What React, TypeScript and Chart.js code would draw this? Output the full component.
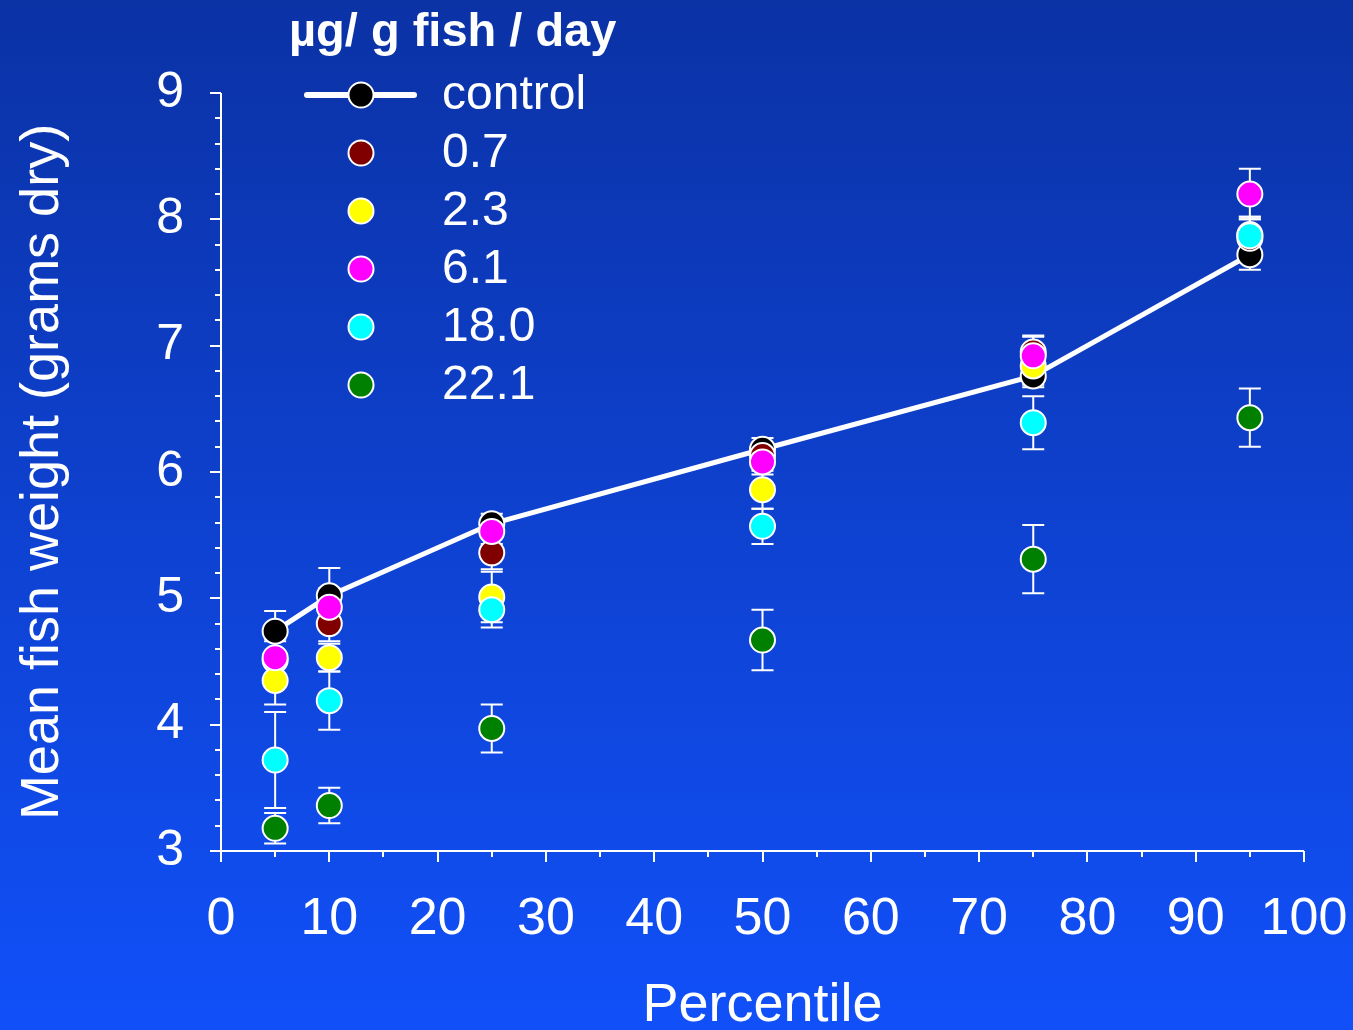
import React, { useEffect, useRef } from "react";
import { Chart, registerables } from "chart.js";

Chart.register(...registerables);

const FONT = "'Liberation Sans', Arial, Helvetica, sans-serif";

// ---- data ----
const percentiles = [5, 10, 25, 50, 75, 95];

const seriesLabels = ["control", "0.7", "2.3", "6.1", "18.0", "22.1"];
const seriesColors = ["#000000", "#800000", "#ffff00", "#ff00ff", "#00ffff", "#008000"];

const control = [4.74, 5.02, 5.59, 6.18, 6.76, 7.72];
const controlErr = [0.16, 0.22, 0.08, 0.09, 0.09, 0.12];

const dose07 = [4.51, 4.8, 5.36, 6.13, 6.95, 7.85];
const dose07Err = [0.15, 0.14, 0.13, 0.1, 0.12, 0.15];

const dose23 = [4.35, 4.53, 5.01, 5.86, 6.84, 7.88];
const dose23Err = [0.19, 0.11, 0.2, 0.15, 0.15, 0.14];

const dose61 = [4.53, 4.93, 5.53, 6.08, 6.92, 8.2];
const dose61Err = [0.15, 0.15, 0.1, 0.1, 0.16, 0.2];

const dose18 = [3.72, 4.19, 4.91, 5.57, 6.39, 7.87];
const dose18Err = [0.38, 0.23, 0.14, 0.14, 0.21, 0.15];

const dose221 = [3.18, 3.36, 3.97, 4.67, 5.31, 6.43];
const dose221Err = [0.12, 0.14, 0.19, 0.24, 0.27, 0.23];

const seriesValues = [control, dose07, dose23, dose61, dose18, dose221];
const seriesErrors = [controlErr, dose07Err, dose23Err, dose61Err, dose18Err, dose221Err];

const xTickValues = [0, 10, 20, 30, 40, 50, 60, 70, 80, 90, 100];
const yTickValues = [3, 4, 5, 6, 7, 8, 9];
const xMinorStep = 5;
const yMinorStep = 0.2;

const legendTitle = "\u00b5g/ g fish / day";
const xTitle = "Percentile";
const yTitle = "Mean fish weight (grams dry)";

// ---- plugins ----
const backgroundPlugin = {
  id: "bgGradient",
  beforeDraw(chart: any) {
    const { ctx, width, height } = chart;
    const g = ctx.createLinearGradient(0, 0, 0, height);
    g.addColorStop(0, "#0b32a5");
    g.addColorStop(1, "#1150f9");
    ctx.save();
    ctx.fillStyle = g;
    ctx.fillRect(0, 0, width, height);
    ctx.restore();
  },
};

const axesAndErrorsPlugin = {
  id: "axesErrors",
  beforeDatasetsDraw(chart: any) {
    const { ctx } = chart;
    const xs = chart.scales.x;
    const ys = chart.scales.y;
    ctx.save();
    ctx.strokeStyle = "#ffffff";
    ctx.lineWidth = 2;
    ctx.lineCap = "butt";

    const x0 = xs.getPixelForValue(xs.min);
    const x1 = xs.getPixelForValue(xs.max);
    const y0 = ys.getPixelForValue(ys.min);
    const y1 = ys.getPixelForValue(ys.max);

    // axis lines
    ctx.beginPath();
    ctx.moveTo(x0, y0);
    ctx.lineTo(x0, y1);
    ctx.moveTo(x0, y0);
    ctx.lineTo(x1, y0);
    ctx.stroke();

    // y ticks
    const nY = Math.round((ys.max - ys.min) / yMinorStep);
    for (let i = 0; i <= nY; i++) {
      const v = ys.min + i * yMinorStep;
      const py = Math.round(ys.getPixelForValue(v));
      const major = yTickValues.some((t) => Math.abs(t - v) < 1e-6);
      ctx.beginPath();
      ctx.moveTo(x0 - (major ? 11 : 6), py);
      ctx.lineTo(x0, py);
      ctx.stroke();
    }
    // x ticks
    const nX = Math.round((xs.max - xs.min) / xMinorStep);
    for (let i = 0; i <= nX; i++) {
      const v = xs.min + i * xMinorStep;
      const px = Math.round(xs.getPixelForValue(v));
      const major = xTickValues.some((t) => Math.abs(t - v) < 1e-6);
      ctx.beginPath();
      ctx.moveTo(px, y0);
      ctx.lineTo(px, y0 + (major ? 11 : 6));
      ctx.stroke();
    }

    // error bars
    const cap = 11;
    seriesValues.forEach((vals, si) => {
      const errs = seriesErrors[si];
      vals.forEach((v, i) => {
        const px = xs.getPixelForValue(percentiles[i]);
        const top = ys.getPixelForValue(v + errs[i]);
        const bot = ys.getPixelForValue(v - errs[i]);
        ctx.beginPath();
        ctx.moveTo(px, top);
        ctx.lineTo(px, bot);
        ctx.moveTo(px - cap, top);
        ctx.lineTo(px + cap, top);
        ctx.moveTo(px - cap, bot);
        ctx.lineTo(px + cap, bot);
        ctx.stroke();
      });
    });
    ctx.restore();
  },
};

const legendPlugin = {
  id: "customLegend",
  afterDraw(chart: any) {
    const { ctx } = chart;
    ctx.save();
    ctx.fillStyle = "#ffffff";
    ctx.font = `bold 47px ${FONT}`;
    ctx.textAlign = "left";
    ctx.textBaseline = "alphabetic";
    ctx.fillText(legendTitle, 289, 46);

    const markerX = 361;
    const textX = 442;
    const rowStart = 95;
    const rowStep = 58;
    seriesLabels.forEach((label, i) => {
      const y = rowStart + i * rowStep;
      if (i === 0) {
        ctx.strokeStyle = "#ffffff";
        ctx.lineWidth = 6;
        ctx.lineCap = "round";
        ctx.beginPath();
        ctx.moveTo(307, y);
        ctx.lineTo(414, y);
        ctx.stroke();
      }
      ctx.beginPath();
      ctx.arc(markerX, y, 12.5, 0, Math.PI * 2);
      ctx.fillStyle = seriesColors[i];
      ctx.fill();
      ctx.lineWidth = 2;
      ctx.strokeStyle = "#ffffff";
      ctx.stroke();

      ctx.fillStyle = "#ffffff";
      ctx.font = `48px ${FONT}`;
      ctx.textBaseline = "middle";
      ctx.fillText(label, textX, y + 1);
    });
    ctx.restore();
  },
};

export default function App() {
  const canvasRef = useRef<HTMLCanvasElement | null>(null);

  useEffect(() => {
    document.body.style.margin = "0";
    const canvas = canvasRef.current;
    if (!canvas) return;

    const datasets = seriesValues.map((vals, si) => ({
      label: seriesLabels[si],
      data: vals.map((v, i) => ({ x: percentiles[i], y: v })),
      showLine: si === 0,
      borderColor: "#ffffff",
      borderWidth: 5,
      backgroundColor: seriesColors[si],
      pointBackgroundColor: seriesColors[si],
      pointBorderColor: "#ffffff",
      pointBorderWidth: 2,
      pointRadius: 12.5,
      pointHoverRadius: 12.5,
      order: seriesValues.length - si,
    }));

    const chart = new Chart(canvas, {
      type: "scatter",
      data: { datasets },
      plugins: [backgroundPlugin, axesAndErrorsPlugin, legendPlugin],
      options: {
        responsive: false,
        animation: false,
        layout: { padding: { top: 93, right: 49, left: 0, bottom: 0 } },
        plugins: {
          legend: { display: false },
          tooltip: { enabled: false },
        },
        scales: {
          x: {
            type: "linear",
            min: 0,
            max: 100,
            afterBuildTicks: (s: any) => {
              s.ticks = xTickValues.map((v) => ({ value: v }));
            },
            afterFit: (s: any) => {
              s.height = 179;
              s.paddingLeft = 0;
              s.paddingRight = 0;
            },
            grid: { display: false, drawTicks: false },
            border: { display: false },
            ticks: {
              color: "#ffffff",
              font: { family: FONT, size: 52 },
              padding: 37,
              autoSkip: false,
              maxRotation: 0,
            },
            title: {
              display: true,
              text: xTitle,
              color: "#ffffff",
              font: { family: FONT, size: 54, lineHeight: 1 },
              padding: { top: 0, bottom: -3 },
            },
          },
          y: {
            type: "linear",
            min: 3,
            max: 9,
            afterBuildTicks: (s: any) => {
              s.ticks = yTickValues.map((v) => ({ value: v }));
            },
            afterFit: (s: any) => {
              s.width = 221;
            },
            grid: { display: false, drawTicks: false },
            border: { display: false },
            ticks: {
              color: "#ffffff",
              font: { family: FONT, size: 50 },
              padding: 37,
              autoSkip: false,
            },
            title: {
              display: true,
              text: yTitle,
              color: "#ffffff",
              font: { family: FONT, size: 54, lineHeight: 1 },
              padding: { top: 16, bottom: 0 },
            },
          },
        },
      } as any,
    });

    return () => {
      chart.destroy();
    };
  }, []);

  return (
    <canvas
      ref={canvasRef}
      width={1353}
      height={1030}
      style={{ display: "block", width: "1353px", height: "1030px" }}
    />
  );
}
